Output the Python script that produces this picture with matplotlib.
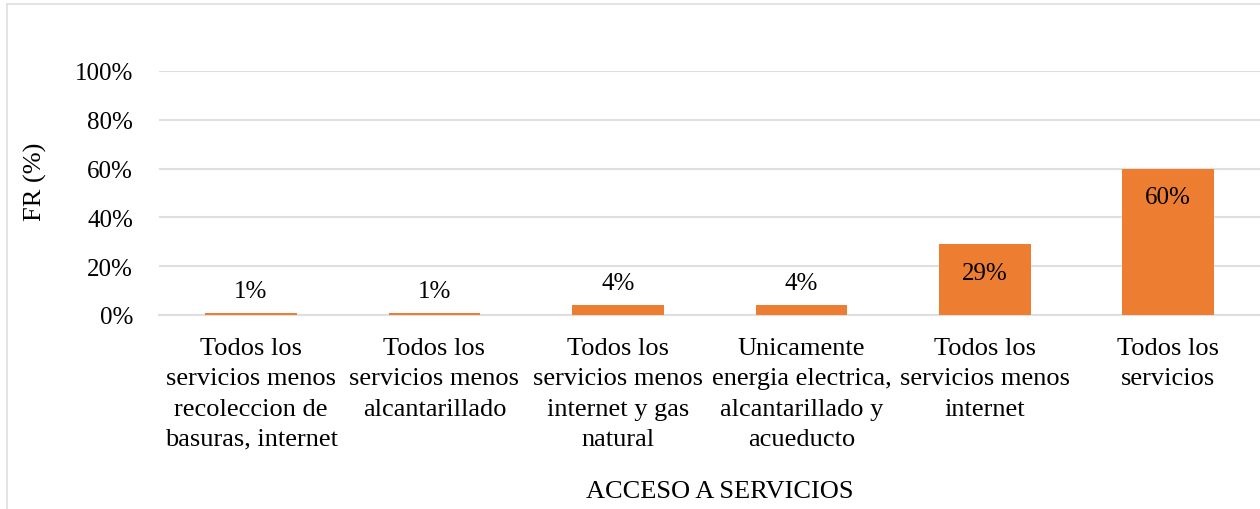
import matplotlib
matplotlib.use('Agg')
import matplotlib.pyplot as plt
from matplotlib.lines import Line2D

plt.rcParams['font.family'] = ['Liberation Serif', 'DejaVu Serif']

categorias = [
    'Todos los\nservicios menos\nrecoleccion de\nbasuras, internet',
    'Todos los\nservicios menos\nalcantarillado',
    'Todos los\nservicios menos\ninternet y gas\nnatural',
    'Unicamente\nenergia electrica,\nalcantarillado y\nacueducto',
    'Todos los\nservicios menos\ninternet',
    'Todos los\nservicios',
]
valores = [0.01, 0.01, 0.04, 0.04, 0.29, 0.60]
etiquetas = ['1%', '1%', '4%', '4%', '29%', '60%']
dentro = [False, False, False, False, True, True]
yticks = [0, 0.2, 0.4, 0.6, 0.8, 1.0]
ytick_labels = ['0%', '20%', '40%', '60%', '80%', '100%']

naranja = '#ED7D31'
gris = '#DCE0E5'
fs = 18
fs_cat = 19

fig = plt.figure(figsize=(12.6, 5.1), dpi=100)
ax = fig.add_axes([159.3/1260, 1 - 316/510, 1 - 159.3/1260, (316 - 72)/510])

x = range(len(categorias))
ax.bar(x, valores, width=0.5, color=naranja, zorder=3)

for i, v in enumerate(valores):
    if dentro[i]:
        ax.text(i, v - 0.118, etiquetas[i], ha='center', va='center', fontsize=fs, zorder=4)
    else:
        ax.text(i, v + 0.09, etiquetas[i], ha='center', va='center', fontsize=fs, zorder=4)

ax.set_xlim(-0.5, len(categorias) - 0.5)
ax.set_ylim(0, 1.0)
ax.set_yticks(yticks)
ax.set_yticklabels(ytick_labels, fontsize=fs)
ax.set_xticks(list(x))
ax.set_xticklabels(categorias, fontsize=fs_cat, linespacing=1.48)
ax.tick_params(axis='both', length=0)
ax.tick_params(axis='x', pad=16)
ax.tick_params(axis='y', pad=19)
ax.grid(axis='y', color=gris, linewidth=1.5, zorder=0)
for s in ['top', 'right', 'left']:
    ax.spines[s].set_visible(False)
ax.spines['bottom'].set_color(gris)
ax.spines['bottom'].set_linewidth(1.5)

fig.text(35/1260, 1 - 182/510, 'FR (%)', rotation=90, ha='center', va='center', fontsize=fs_cat)
fig.text(720/1260, 1 - 492/510, 'ACCESO A SERVICIOS', ha='center', va='center', fontsize=fs_cat)

# marco del grafico
fig.add_artist(Line2D([7/1260, 7/1260], [0, 1 - 5/510], color=gris, linewidth=1.2))
fig.add_artist(Line2D([7/1260, 1], [1 - 5/510, 1 - 5/510], color=gris, linewidth=1.2))

fig.savefig('out.png', dpi=100)
